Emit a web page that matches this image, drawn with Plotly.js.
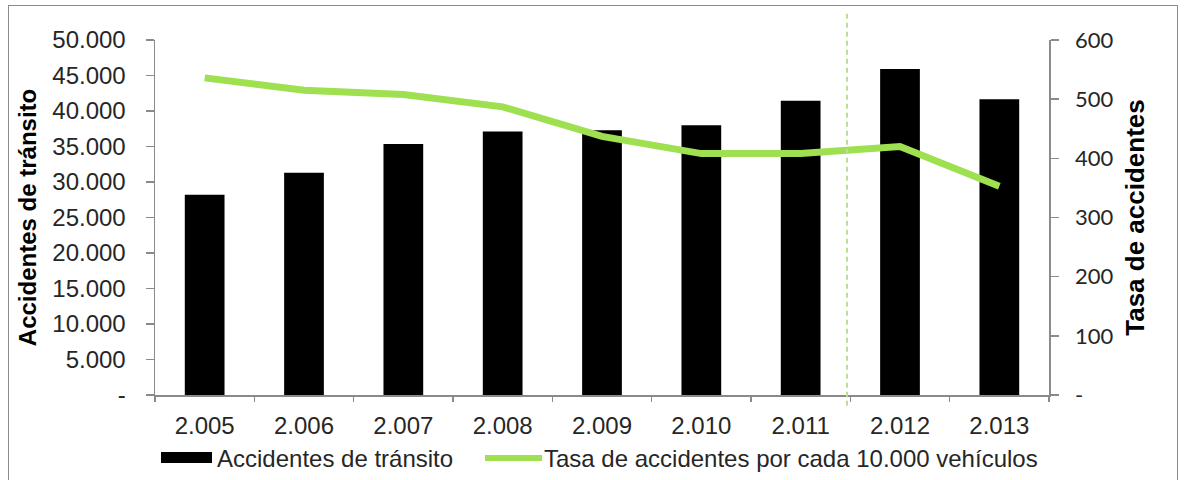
<!DOCTYPE html>
<html>
<head>
<meta charset="utf-8">
<script src="https://cdn.plot.ly/plotly-3.0.1.min.js"></script>
<style>
  html, body { margin: 0; padding: 0; background: #ffffff; }
  #wrap { position: relative; width: 1184px; height: 480px; overflow: hidden; }
  #frame { position: absolute; left: 8px; top: 5px; width: 1170px; height: 500px; border: 1px solid #8c8c8c; box-sizing: border-box; pointer-events: none; z-index: 5; }
  #chart { position: absolute; left: 0; top: 0; width: 1184px; height: 480px; }
</style>
</head>
<body>
<div id="wrap">
  <div id="chart"></div>
  <div id="frame"></div>
</div>
<script>
const years = ['2.005', '2.006', '2.007', '2.008', '2.009', '2.010', '2.011', '2.012', '2.013'];
const accidentes = [28200, 31300, 35350, 37100, 37300, 38000, 41450, 45900, 41650];
const tasa = [536, 515, 508, 487, 437, 408, 408, 420, 353];
const leftTicks = [0, 5000, 10000, 15000, 20000, 25000, 30000, 35000, 40000, 45000, 50000];
const leftTickText = ['-', '5.000', '10.000', '15.000', '20.000', '25.000', '30.000', '35.000', '40.000', '45.000', '50.000'];
const rightTicks = [0, 100, 200, 300, 400, 500, 600];
const rightTickText = ['-', '100', '200', '300', '400', '500', '600'];
const seriesNames = ['Accidentes de tránsito', 'Tasa de accidentes por cada 10.000 vehículos'];
const leftTitle = 'Accidentes de tránsito';
const rightTitle = 'Tasa de accidentes';

const barColor = '#000000';
const lineColor = '#9ee04f';
const axisColor = '#8a8a8a';
const textColor = '#262626';
const font = 'Liberation Sans, Arial, sans-serif';

const traces = [
  {
    type: 'bar', x: years, y: accidentes, name: seriesNames[0],
    marker: { color: barColor }, width: 0.4, yaxis: 'y', showlegend: false,
    hoverinfo: 'x+y'
  },
  {
    type: 'scatter', mode: 'lines', x: years, y: tasa, name: seriesNames[1],
    line: { color: lineColor, width: 7, shape: 'linear' }, yaxis: 'y2', showlegend: false,
    hoverinfo: 'x+y'
  }
];

const layout = {
  width: 1184, height: 480,
  margin: { l: 155, r: 135, t: 40, b: 85 },
  paper_bgcolor: '#ffffff', plot_bgcolor: '#ffffff',
  font: { family: font, size: 24, color: textColor },
  showlegend: false,
  bargap: 0.6,
  xaxis: {
    type: 'category', showgrid: false, zeroline: false,
    showline: true, linecolor: axisColor, linewidth: 1.5,
    ticks: 'outside', ticklen: 5, tickcolor: axisColor, tickwidth: 1.5,
    tickson: 'boundaries', ticklabelstandoff: 9,
    tickfont: { family: font, size: 24, color: textColor },
    range: [-0.5, 8.5]
  },
  yaxis: {
    range: [0, 50000], showgrid: false, zeroline: false,
    showline: true, linecolor: axisColor, linewidth: 1.5,
    ticks: 'outside', ticklen: 8, tickcolor: axisColor, tickwidth: 1.5,
    tickvals: leftTicks, ticktext: leftTickText, ticklabelstandoff: 15,
    tickfont: { family: font, size: 24, color: textColor },
    title: { text: leftTitle, font: { family: font, size: 24, color: '#000000', weight: 'bold' }, standoff: 9 }
  },
  yaxis2: {
    range: [0, 600], overlaying: 'y', side: 'right', showgrid: false, zeroline: false,
    showline: true, linecolor: axisColor, linewidth: 1.5,
    ticks: 'outside', ticklen: 8, tickcolor: axisColor, tickwidth: 1.5,
    tickvals: rightTicks, ticktext: rightTickText, ticklabelstandoff: 12,
    tickfont: { family: 'Lato, sans-serif', size: 22, color: textColor },
    title: { text: rightTitle, font: { family: font, size: 26, color: '#000000', weight: 'bold' }, standoff: 13 }
  },
  shapes: [
    { type: 'line', xref: 'paper', yref: 'paper', x0: 0.774, x1: 0.774, y0: -0.03, y1: 1.085,
      line: { color: '#bfdc96', width: 2, dash: '5px,4px' }, layer: 'above' },
    // manual legend symbols
    { type: 'rect', xref: 'paper', yref: 'paper', x0: (161 - 155) / 894, x1: (212 - 155) / 894,
      y0: (395 - 463) / 355, y1: (395 - 452) / 355, fillcolor: barColor, line: { width: 0 } },
    { type: 'line', xref: 'paper', yref: 'paper', x0: (485 - 155) / 894, x1: (542 - 155) / 894,
      y0: (395 - 458) / 355, y1: (395 - 458) / 355, line: { color: lineColor, width: 6 } }
  ],
  annotations: [
    { xref: 'paper', yref: 'paper', x: (215 - 155) / 894, y: (395 - 458) / 355, xanchor: 'left', yanchor: 'middle',
      text: seriesNames[0], showarrow: false, font: { family: font, size: 24, color: textColor } },
    { xref: 'paper', yref: 'paper', x: (542 - 155) / 894, y: (395 - 458) / 355, xanchor: 'left', yanchor: 'middle',
      text: seriesNames[1], showarrow: false, font: { family: font, size: 24, color: textColor } }
  ]
};

Plotly.newPlot('chart', traces, layout, { displayModeBar: false, staticPlot: true });
</script>
</body>
</html>
